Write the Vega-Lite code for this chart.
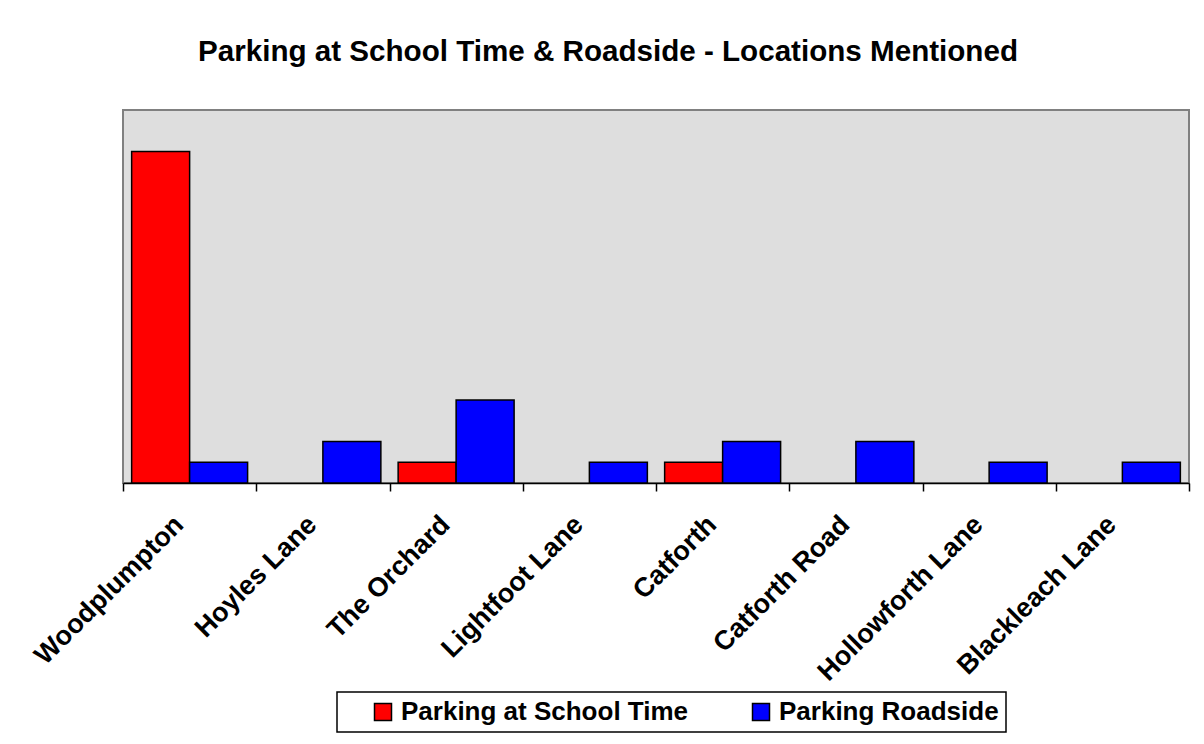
{
  "$schema": "https://vega.github.io/schema/vega-lite/v6.json",
  "width": 1066,
  "height": 373,
  "autosize": {"type": "none"},
  "padding": {"left": 123, "top": 110, "right": 15, "bottom": 261},
  "background": "white",
  "title": {
    "text": "Parking at School Time & Roadside - Locations Mentioned",
    "font": "Liberation Sans",
    "fontSize": 29.6,
    "fontWeight": "bold",
    "color": "black",
    "anchor": "middle",
    "dx": -48,
    "offset": 42
  },
  "data": {
    "values": [
      {"location": "Woodplumpton", "series": "Parking at School Time", "count": 16},
      {"location": "Woodplumpton", "series": "Parking Roadside", "count": 1},
      {"location": "Hoyles Lane", "series": "Parking Roadside", "count": 2},
      {"location": "The Orchard", "series": "Parking at School Time", "count": 1},
      {"location": "The Orchard", "series": "Parking Roadside", "count": 4},
      {"location": "Lightfoot Lane", "series": "Parking Roadside", "count": 1},
      {"location": "Catforth", "series": "Parking at School Time", "count": 1},
      {"location": "Catforth", "series": "Parking Roadside", "count": 2},
      {"location": "Catforth Road", "series": "Parking Roadside", "count": 2},
      {"location": "Hollowforth Lane", "series": "Parking Roadside", "count": 1},
      {"location": "Blackleach Lane", "series": "Parking Roadside", "count": 1}
    ]
  },
  "mark": {"type": "bar", "stroke": "black", "strokeWidth": 1.5},
  "encoding": {
    "x": {
      "field": "location",
      "type": "nominal",
      "sort": ["Woodplumpton", "Hoyles Lane", "The Orchard", "Lightfoot Lane", "Catforth", "Catforth Road", "Hollowforth Lane", "Blackleach Lane"],
      "scale": {"paddingInner": 0, "paddingOuter": 0},
      "title": null,
      "axis": {
        "domainColor": "black",
        "domainWidth": 1.5,
        "tickColor": "black",
        "tickWidth": 1.5,
        "tickSize": 8,
        "tickBand": "extent",
        "labelAngle": -45,
        "labelFont": "Liberation Sans",
        "labelFontWeight": "bold",
        "labelFontSize": 27,
        "labelColor": "black",
        "labelPadding": 20,
        "labelOffset": -20,
        "labelLimit": 400
      }
    },
    "xOffset": {
      "field": "series",
      "type": "nominal",
      "sort": ["Parking at School Time", "Parking Roadside"],
      "scale": {"paddingInner": 0, "paddingOuter": 0.149}
    },
    "y": {
      "field": "count",
      "type": "quantitative",
      "scale": {"domain": [0, 18], "nice": false},
      "axis": null
    },
    "color": {
      "field": "series",
      "type": "nominal",
      "scale": {"domain": ["Parking at School Time", "Parking Roadside"], "range": ["#ff0000", "#0000ff"]},
      "legend": {
        "title": null,
        "orient": "none",
        "direction": "horizontal",
        "legendX": 214,
        "legendY": 582,
        "symbolType": "square",
        "symbolSize": 289,
        "symbolStrokeColor": "black",
        "symbolStrokeWidth": 1.5,
        "symbolOpacity": 1,
        "symbolOffset": 26,
        "labelFont": "Liberation Sans",
        "labelFontWeight": "bold",
        "labelFontSize": 26,
        "labelColor": "black",
        "labelOffset": 5,
        "labelLimit": 400,
        "columnPadding": 33,
        "padding": 7,
        "fillColor": "white",
        "strokeColor": "black"
      }
    }
  },
  "config": {
    "view": {"fill": "#dedede", "stroke": "#808080", "strokeWidth": 2},
    "legend": {"strokeWidth": 1.5}
  }
}
